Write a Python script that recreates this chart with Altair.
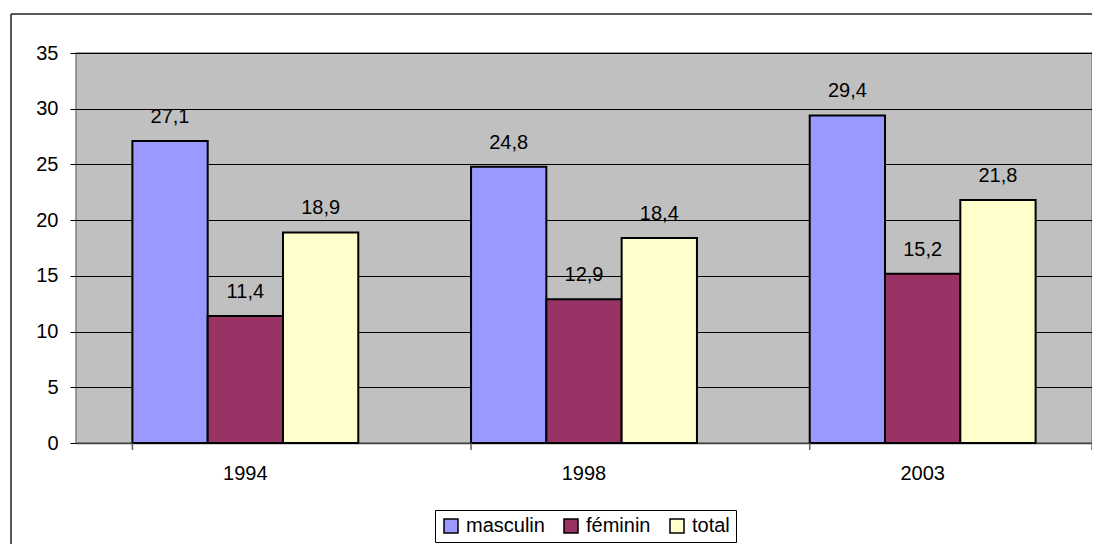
import altair as alt
import pandas as pd

years = ["1994", "1998", "2003"]
series = ["masculin", "féminin", "total"]
masculin = [27.1, 24.8, 29.4]
feminin = [11.4, 12.9, 15.2]
total = [18.9, 18.4, 21.8]
colors = ["#9999FF", "#993366", "#FFFFCC"]
y_ticks = [0, 5, 10, 15, 20, 25, 30, 35]

rows = []
for i, y in enumerate(years):
    for s, vals in zip(series, [masculin, feminin, total]):
        v = vals[i]
        rows.append({"year": y, "serie": s, "value": v,
                     "label": f"{v:.1f}".replace(".", ",")})
df = pd.DataFrame(rows)

W, H = 1016, 390
FONT = "Arial, Liberation Sans"
FS = 20

x_scale = alt.Scale(domain=years, paddingInner=0.333, paddingOuter=0.1665)
xo_scale = alt.Scale(domain=series, paddingInner=0, paddingOuter=0)

base = alt.Chart(df)

bars = base.mark_bar(stroke="black", strokeWidth=2).encode(
    x=alt.X("year:N", scale=x_scale, sort=years,
            axis=alt.Axis(title=None, labelAngle=0, ticks=False, tickSize=0,
                          labelPadding=20, labelFontSize=FS, labelFont=FONT,
                          labelColor="black", domainColor="#404040", domainWidth=1.5)),
    xOffset=alt.XOffset("serie:N", scale=xo_scale, sort=series),
    y=alt.Y("value:Q", scale=alt.Scale(domain=[0, 35], nice=False),
            axis=alt.Axis(title=None, values=y_ticks, grid=True, gridColor="black",
                          gridWidth=1, domain=False, tickColor="black", tickSize=6,
                          labelPadding=12, labelFontSize=FS, labelFont=FONT,
                          labelColor="black")),
    fill=alt.Fill("serie:N", scale=alt.Scale(domain=series, range=colors), sort=series,
                  legend=alt.Legend(title=None, orient="none", legendX=359, legendY=457,
                                    direction="horizontal", symbolType="square",
                                    symbolSize=196, symbolStrokeColor="black",
                                    symbolStrokeWidth=1.5, labelFontSize=FS,
                                    labelFont=FONT, labelColor="black", labelOffset=5,
                                    columnPadding=16, padding=6, strokeColor="black",
                                    fillColor="white")),
)

texts = base.mark_text(baseline="alphabetic", dy=-18, fontSize=FS, font=FONT,
                       color="black").encode(
    x=alt.X("year:N", scale=x_scale, sort=years),
    xOffset=alt.XOffset("serie:N", scale=xo_scale, sort=series),
    y="value:Q",
    text="label:N",
)

tick_df = pd.DataFrame({"year": years})
xticks = alt.Chart(tick_df).mark_rule(color="#606060", strokeWidth=1.5).encode(
    x=alt.X("year:N", scale=x_scale, sort=years, bandPosition=0),
    y=alt.value(H), y2=alt.value(H + 7),
)
one = pd.DataFrame({"a": [0]})
last_tick = alt.Chart(one).mark_rule(color="#606060", strokeWidth=1.5).encode(
    x=alt.value(W), y=alt.value(H), y2=alt.value(H + 7))
border_top = alt.Chart(one).mark_rule(color="#222222", strokeWidth=1.5).encode(
    x=alt.value(-65), x2=alt.value(1030), y=alt.value(-39))
border_left = alt.Chart(one).mark_rule(color="#222222", strokeWidth=1.5).encode(
    x=alt.value(-65), y=alt.value(-39), y2=alt.value(505))

chart = alt.layer(bars, texts, xticks, last_tick, border_top, border_left).properties(
    width=W, height=H,
    autosize=alt.AutoSizeParams(type="none"),
    padding={"left": 68, "top": 45, "right": 0, "bottom": 101},
    background="white",
).configure_view(fill="#C0C0C0", stroke="#808080", strokeWidth=1.5)

chart.save("out.html", embed_options={"renderer": "svg", "actions": False})
